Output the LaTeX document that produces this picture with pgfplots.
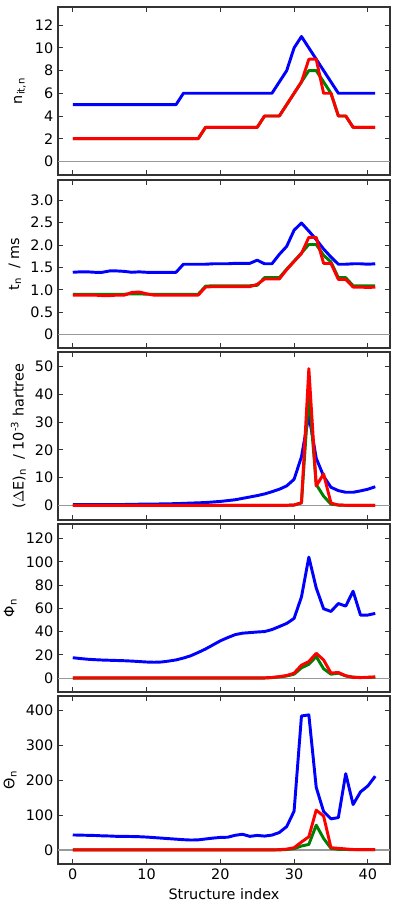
\documentclass[border=0pt]{standalone}
\usepackage{fontspec}
\setmainfont{DejaVu Sans}
\usepackage{pgfplots}
\pgfplotsset{compat=1.18}
\usepackage{pgfplotstable}

% columns: structure index, blue, green, red
\pgfplotstableread{
x b g r
0 5 2 2
1 5 2 2
2 5 2 2
3 5 2 2
4 5 2 2
5 5 2 2
6 5 2 2
7 5 2 2
8 5 2 2
9 5 2 2
10 5 2 2
11 5 2 2
12 5 2 2
13 5 2 2
14 5 2 2
15 6 2 2
16 6 2 2
17 6 2 2
18 6 3 3
19 6 3 3
20 6 3 3
21 6 3 3
22 6 3 3
23 6 3 3
24 6 3 3
25 6 3 3
26 6 4 4
27 6 4 4
28 7 4 4
29 8 5 5
30 10 6 6
31 11 7 7
32 10 8 9
33 9 8 9
34 8 7 6
35 7 6 6
36 6 4 4
37 6 4 4
38 6 3 3
39 6 3 3
40 6 3 3
41 6 3 3
}\niter

\pgfplotstableread{
x b g r
0 1.39 0.90 0.88
1 1.40 0.90 0.88
2 1.40 0.90 0.88
3 1.39 0.90 0.88
4 1.39 0.90 0.87
5 1.42 0.90 0.87
6 1.42 0.90 0.88
7 1.41 0.90 0.88
8 1.39 0.91 0.94
9 1.40 0.91 0.95
10 1.39 0.90 0.91
11 1.39 0.90 0.88
12 1.39 0.90 0.88
13 1.39 0.90 0.88
14 1.39 0.90 0.88
15 1.57 0.90 0.88
16 1.57 0.90 0.88
17 1.57 0.90 0.88
18 1.57 1.08 1.06
19 1.58 1.09 1.07
20 1.58 1.09 1.07
21 1.58 1.09 1.07
22 1.59 1.09 1.07
23 1.59 1.09 1.07
24 1.59 1.09 1.07
25 1.66 1.10 1.12
26 1.58 1.27 1.24
27 1.58 1.27 1.24
28 1.79 1.27 1.24
29 1.97 1.46 1.45
30 2.33 1.64 1.63
31 2.49 1.82 1.81
32 2.31 2.01 2.17
33 2.12 2.01 2.17
34 1.91 1.77 1.59
35 1.73 1.62 1.59
36 1.57 1.27 1.23
37 1.57 1.27 1.23
38 1.58 1.09 1.06
39 1.58 1.09 1.06
40 1.57 1.09 1.05
41 1.58 1.09 1.06
}\ttime

\pgfplotstableread{
x b g r
0 0.3 0 0
1 0.3 0 0
2 0.3 0 0
3 0.3 0 0
4 0.3 0 0
5 0.3 0 0
6 0.3 0 0
7 0.3 0 0
8 0.35 0 0
9 0.4 0 0
10 0.4 0 0
11 0.45 0 0
12 0.5 0 0
13 0.55 0 0
14 0.6 0 0
15 0.7 0 0
16 0.8 0 0
17 0.9 0 0
18 1.0 0 0
19 1.2 0 0
20 1.4 0 0
21 1.7 0 0
22 2.0 0 0
23 2.5 0 0
24 3.0 0 0
25 3.5 0 0
26 4.1 0 0
27 4.9 0 0
28 5.8 0 0
29 7.0 0 0
30 9.4 0.1 0.1
31 17.5 0.9 0.9
32 32.6 40.5 49.3
33 17.0 7.5 7.0
34 10.5 3.3 11.3
35 6.5 0.4 0.8
36 5.3 0.1 0.1
37 4.7 0 0
38 4.7 0 0
39 5.2 0 0
40 5.8 0 0
41 6.7 0 0
}\denergy

\pgfplotstableread{
x b g r
0 17.5 0 0.1
1 16.8 0 0.1
2 16.2 0 0.1
3 15.8 0 0.1
4 15.5 0 0.1
5 15.3 0 0.1
6 15.1 0 0.1
7 14.9 0 0.1
8 14.6 0 0.1
9 14.2 0 0.1
10 13.8 0 0.1
11 13.6 0 0.1
12 13.8 0 0.1
13 14.6 0 0.1
14 15.6 0 0.1
15 17.2 0 0.1
16 19.2 0 0.1
17 22.0 0 0.1
18 25.0 0 0.1
19 28.5 0 0.1
20 32.0 0 0.1
21 34.8 0 0.1
22 37.3 0 0.1
23 38.6 0 0.1
24 39.1 0 0.1
25 39.6 0 0.1
26 40.0 0 0.2
27 41.7 0.4 0.5
28 44.3 1.0 1.2
29 47.0 1.8 2.2
30 51.3 3.3 4.2
31 69.8 8.8 11.1
32 104.0 11.8 14.2
33 77.5 18.5 21.3
34 59.6 8.0 15.6
35 57.3 3.3 4.3
36 64.1 4.2 4.8
37 61.9 1.8 2.0
38 74.7 0.8 0.6
39 54.2 0.5 0.4
40 54.2 0.5 0.7
41 55.6 0.8 1.0
}\phin

\pgfplotstableread{
x b g r
0 43 0.3 0.3
1 42.5 0.3 0.3
2 42 0.3 0.3
3 41.5 0.3 0.3
4 40.5 0.3 0.3
5 40 0.3 0.3
6 39 0.3 0.3
7 39 0.3 0.3
8 38.5 0.3 0.3
9 38 0.3 0.3
10 37 0.3 0.3
11 35.5 0.3 0.3
12 34 0.3 0.3
13 32.5 0.3 0.3
14 31 0.3 0.3
15 29.5 0.3 0.3
16 28.5 0.3 0.3
17 29 0.3 0.3
18 31.5 0.3 0.3
19 34 0.3 0.3
20 36 0.3 0.3
21 36.5 0.3 0.3
22 42 0.3 0.3
23 45 0.3 0.3
24 39 0.3 0.3
25 41.7 0.3 0.3
26 39.8 0.3 0.3
27 42.6 0.3 0.3
28 50 0.3 1
29 67 1.5 2.5
30 111 3.8 6.6
31 383 11.4 22.8
32 386 16 38
33 179 71 114
34 110 33 97
35 89 4.7 6.6
36 92.6 2 4.7
37 218 1.5 3
38 130 1 1.5
39 166 1 1
40 183 1 1
41 211 1 1
}\thetan

\pgfplotsset{
  panel/.style={
    scale only axis, width=249pt, height=126pt, anchor=north west,
    xmin=-2, xmax=43, xtick={0,10,20,30,40},
    tick align=inside, major tick length=3.5pt,
    axis line style={black!80, line width=0.9pt},
    every tick/.append style={black!80, line width=0.6pt},
    tick label style={font=\fontsize{10.8}{12}\selectfont},
    label style={font=\fontsize{10.8}{12}\selectfont},
  },
  bl/.style={blue, line width=2.2pt, line join=round},
  gr/.style={green!50!black, line width=2.2pt, line join=round},
  rd/.style={red, line width=2.2pt, line join=round},
  zero/.style={gray!80, line width=0.8pt, forget plot},
}

\begin{document}
\begin{tikzpicture}
\path[use as bounding box] (0,0) rectangle (299.25pt,-679.5pt);

\begin{axis}[panel, at={(43.5pt,-5.25pt)},
  ymin=-1.2, ymax=13.6, ytick={0,2,...,12}, yticklabels={0,2,4,6,8,10,12},
  xticklabels={}, ylabel={n\textsubscript{it,n}}]
\addplot[zero] coordinates {(-2,0) (43,0)};
\addplot[bl] table[x=x,y=b] {\niter};
\addplot[gr] table[x=x,y=g] {\niter};
\addplot[rd] table[x=x,y=r] {\niter};
\end{axis}

\begin{axis}[panel, at={(43.5pt,-135pt)},
  ymin=-0.3, ymax=3.45, ytick={0,0.5,...,3.0}, yticklabels={0,0.5,1.0,1.5,2.0,2.5,3.0},
  xticklabels={}, ylabel={t\textsubscript{n}\ \ / ms}]
\addplot[zero] coordinates {(-2,0) (43,0)};
\addplot[bl] table[x=x,y=b] {\ttime};
\addplot[gr] table[x=x,y=g] {\ttime};
\addplot[rd] table[x=x,y=r] {\ttime};
\end{axis}

\begin{axis}[panel, at={(43.5pt,-264pt)},
  ymin=-5.3, ymax=55.3, ytick={0,10,...,50}, yticklabels={0,10,20,30,40,50},
  xticklabels={}, ylabel={($\Delta$E)\textsubscript{n}\ \ / 10\textsuperscript{-3} hartree}]
\addplot[zero] coordinates {(-2,0) (43,0)};
\addplot[bl] table[x=x,y=b] {\denergy};
\addplot[gr] table[x=x,y=g] {\denergy};
\addplot[rd] table[x=x,y=r] {\denergy};
\end{axis}

\begin{axis}[panel, at={(43.5pt,-393pt)},
  ymin=-12, ymax=132.5, ytick={0,20,...,120}, yticklabels={0,20,40,60,80,100,120},
  xticklabels={}, ylabel={Φ\textsubscript{n}}]
\addplot[zero] coordinates {(-2,0) (43,0)};
\addplot[bl] table[x=x,y=b] {\phin};
\addplot[gr] table[x=x,y=g] {\phin};
\addplot[rd] table[x=x,y=r] {\phin};
\end{axis}

\begin{axis}[panel, at={(43.5pt,-522pt)},
  ymin=-40, ymax=440, ytick={0,100,...,400}, yticklabels={0,100,200,300,400},
  xticklabels={0,10,20,30,40}, xlabel={Structure index}, ylabel={Θ\textsubscript{n}}]
\addplot[zero] coordinates {(-2,0) (43,0)};
\addplot[bl] table[x=x,y=b] {\thetan};
\addplot[gr] table[x=x,y=g] {\thetan};
\addplot[rd] table[x=x,y=r] {\thetan};
\end{axis}
\end{tikzpicture}
\end{document}
